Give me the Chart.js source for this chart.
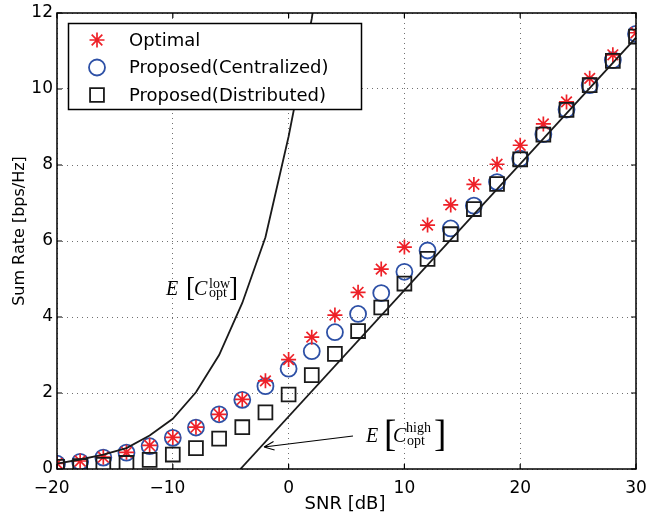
<!DOCTYPE html>
<html>
<head>
<meta charset="utf-8">
<script src="https://cdn.jsdelivr.net/npm/chart.js@4.4.1/dist/chart.umd.min.js"></script>
<style>
  html, body { margin: 0; padding: 0; background: #fff; }
</style>
</head>
<body>
<canvas id="chart" width="649" height="519"></canvas>
<script>
// SNR grid of the simulated points (dB)
const snrDb = [-20, -18, -16, -14, -12, -10, -8, -6, -4, -2, 0, 2, 4, 6, 8, 10, 12, 14, 16, 18, 20, 22, 24, 26, 28, 30];
const optimalRate = [0.15, 0.21, 0.31, 0.44, 0.62, 0.83, 1.1, 1.44, 1.83, 2.32, 2.88, 3.47, 4.05, 4.65, 5.26, 5.84, 6.42, 6.95, 7.49, 8.02, 8.52, 9.08, 9.66, 10.28, 10.9, 11.48];
const centralRate = [0.14, 0.19, 0.3, 0.43, 0.6, 0.82, 1.09, 1.44, 1.82, 2.18, 2.64, 3.1, 3.6, 4.08, 4.63, 5.19, 5.75, 6.33, 6.93, 7.55, 8.17, 8.81, 9.46, 10.1, 10.76, 11.45];
const distribRate = [0.06, 0.08, 0.11, 0.16, 0.24, 0.38, 0.55, 0.8, 1.1, 1.49, 1.96, 2.47, 3.03, 3.63, 4.25, 4.88, 5.53, 6.18, 6.84, 7.5, 8.15, 8.8, 9.45, 10.1, 10.74, 11.38];

// analytic bounds
const lowBoundSnr = [-20, -18, -16, -14, -12, -10, -8, -6, -4, -2, 0, 2, 4];
const lowBoundRate = [0.14, 0.25, 0.38, 0.55, 0.88, 1.32, 2.02, 3.0, 4.37, 6.1, 8.75, 11.85, 16];
const highBoundSnr = [-4.16, 30];
const highBoundRate = [0, 11.35];

const xTickVals = [-20, -10, 0, 10, 20, 30];
const yTickVals = [0, 2, 4, 6, 8, 10, 12];

const RED = '#ee2128';
const BLUE = '#2d50a6';
const BLACK = '#1a1a1a';

const pts = (xs, ys) => xs.map((x, i) => ({ x: x, y: ys[i] }));

const starStyle = { pointStyle: 'star', radius: 7.5, borderWidth: 1.7, borderColor: RED, backgroundColor: RED };
const circStyle = { pointStyle: 'circle', radius: 8, borderWidth: 1.8, borderColor: BLUE, backgroundColor: 'rgba(0,0,0,0)' };
const rectStyle = { pointStyle: 'rect', radius: 9.8, borderWidth: 1.8, borderColor: BLACK, backgroundColor: 'rgba(0,0,0,0)' };

function markerSet(label, data, st) {
  return {
    label: label,
    data: data,
    showLine: false,
    pointStyle: st.pointStyle,
    pointRadius: st.radius,
    pointBorderWidth: st.borderWidth,
    pointBorderColor: st.borderColor,
    pointBackgroundColor: st.backgroundColor
  };
}

function lineSet(label, data) {
  return {
    label: label,
    data: data,
    showLine: true,
    borderColor: BLACK,
    borderWidth: 1.8,
    pointRadius: 0,
    tension: 0
  };
}

const legendItems = [
  ['Optimal', starStyle],
  ['Proposed(Centralized)', circStyle],
  ['Proposed(Distributed)', rectStyle]
];

// matlab keeps the minus sign out of the centring, so pad negatives on the right
function minusLabel(v) {
  return v < 0 ? '\u2212' + Math.abs(v) + '  ' : String(v);
}

// box, inside ticks, legend, titles and the bound labels
const extras = {
  id: 'extras',
  afterDraw(chart) {
    const ctx = chart.ctx;
    const a = chart.chartArea;
    const xs = chart.scales.x, ys = chart.scales.y;
    ctx.save();

    ctx.strokeStyle = '#000';
    ctx.lineWidth = 1.2;
    ctx.beginPath();
    xTickVals.forEach(v => {
      const p = xs.getPixelForValue(v);
      ctx.moveTo(p, a.bottom); ctx.lineTo(p, a.bottom - 5);
      ctx.moveTo(p, a.top); ctx.lineTo(p, a.top + 5);
    });
    yTickVals.forEach(v => {
      const p = ys.getPixelForValue(v);
      ctx.moveTo(a.left, p); ctx.lineTo(a.left + 5, p);
      ctx.moveTo(a.right, p); ctx.lineTo(a.right - 5, p);
    });
    ctx.stroke();

    ctx.lineWidth = 1.5;
    ctx.strokeRect(a.left, a.top, a.right - a.left, a.bottom - a.top);

    // legend
    ctx.fillStyle = '#fff';
    ctx.fillRect(68.5, 23.5, 293, 86);
    ctx.lineWidth = 1.5;
    ctx.strokeStyle = '#000';
    ctx.strokeRect(68.5, 23.5, 293, 86);
    const rows = [40, 67.5, 95];
    legendItems.forEach((it, i) => {
      const st = it[1];
      ctx.save();
      ctx.strokeStyle = st.borderColor;
      ctx.fillStyle = st.backgroundColor;
      ctx.lineWidth = st.borderWidth;
      Chart.helpers.drawPoint(ctx, st, 97, rows[i]);
      ctx.restore();
      ctx.fillStyle = '#000';
      ctx.font = '18px "DejaVu Sans"';
      ctx.textAlign = 'left';
      ctx.textBaseline = 'middle';
      ctx.fillText(it[0], 129, rows[i] + 1);
    });

    // axis titles
    ctx.fillStyle = '#000';
    ctx.font = '18px "DejaVu Sans"';
    ctx.textAlign = 'center';
    ctx.textBaseline = 'middle';
    ctx.fillText('SNR [dB]', 345, 504);
    ctx.save();
    ctx.translate(20, 231);
    ctx.rotate(-Math.PI / 2);
    ctx.font = '16px "DejaVu Sans"';
    ctx.fillText('Sum Rate [bps/Hz]', 0, 0);
    ctx.restore();

    // E[C_opt^low]
    ctx.textAlign = 'left';
    ctx.textBaseline = 'alphabetic';
    ctx.font = 'italic 20px "Liberation Serif"';
    ctx.fillText('E', 166, 295);
    ctx.fillText('C', 194, 295);
    ctx.font = '27px "Liberation Serif"';
    ctx.fillText('[', 186, 296);
    ctx.fillText(']', 229, 296);
    ctx.font = '14px "Liberation Serif"';
    ctx.fillText('low', 209, 288);
    ctx.fillText('opt', 209, 297);

    // E[C_opt^high]
    ctx.font = 'italic 20px "Liberation Serif"';
    ctx.fillText('E', 366, 442);
    ctx.fillText('C', 393, 442);
    ctx.font = '37px "Liberation Serif"';
    ctx.fillText('[', 384, 446);
    ctx.fillText(']', 434, 446);
    ctx.font = '14px "Liberation Serif"';
    ctx.fillText('high', 406, 432);
    ctx.fillText('opt', 407, 445);

    // arrow to the high SNR bound
    ctx.strokeStyle = '#000';
    ctx.lineWidth = 1.1;
    ctx.beginPath();
    ctx.moveTo(353, 436);
    ctx.lineTo(264, 447);
    const ang = Math.atan2(436 - 447, 353 - 264);
    [0.4, -0.4].forEach(d => {
      ctx.moveTo(264, 447);
      ctx.lineTo(264 + 11 * Math.cos(ang + d), 447 + 11 * Math.sin(ang + d));
    });
    ctx.stroke();

    ctx.restore();
  }
};

const tickFont = { family: 'DejaVu Sans', size: 17 };

new Chart(document.getElementById('chart'), {
  type: 'scatter',
  data: {
    datasets: [
      lineSet('E[C_opt^high]', pts(highBoundSnr, highBoundRate)),
      lineSet('E[C_opt^low]', pts(lowBoundSnr, lowBoundRate)),
      markerSet('Proposed(Distributed)', pts(snrDb, distribRate), rectStyle),
      markerSet('Optimal', pts(snrDb, optimalRate), starStyle),
      markerSet('Proposed(Centralized)', pts(snrDb, centralRate), circStyle)
    ]
  },
  options: {
    responsive: false,
    devicePixelRatio: 1,
    animation: false,
    layout: { padding: { left: 0, right: 13, top: 13, bottom: 0 } },
    plugins: { legend: { display: false }, tooltip: { enabled: false } },
    scales: {
      x: {
        type: 'linear',
        min: -20, max: 30,
        afterBuildTicks: s => { s.ticks = xTickVals.map(v => ({ value: v })); },
        afterFit: s => { s.height = 50; s.paddingLeft = 0; s.paddingRight = 0; },
        ticks: { font: tickFont, color: '#000', padding: 9, callback: minusLabel, maxRotation: 0 },
        grid: { color: '#707070', lineWidth: 1, drawTicks: false },
        border: { display: false, dash: [1, 4] }
      },
      y: {
        type: 'linear',
        min: 0, max: 12,
        afterBuildTicks: s => { s.ticks = yTickVals.map(v => ({ value: v })); },
        afterFit: s => { s.width = 57; s.paddingTop = 0; s.paddingBottom = 0; },
        ticks: { font: tickFont, color: '#000', padding: 4, callback: minusLabel },
        grid: { color: '#707070', lineWidth: 1, drawTicks: false },
        border: { display: false, dash: [1, 4] }
      }
    }
  },
  plugins: [extras]
});
</script>
</body>
</html>
